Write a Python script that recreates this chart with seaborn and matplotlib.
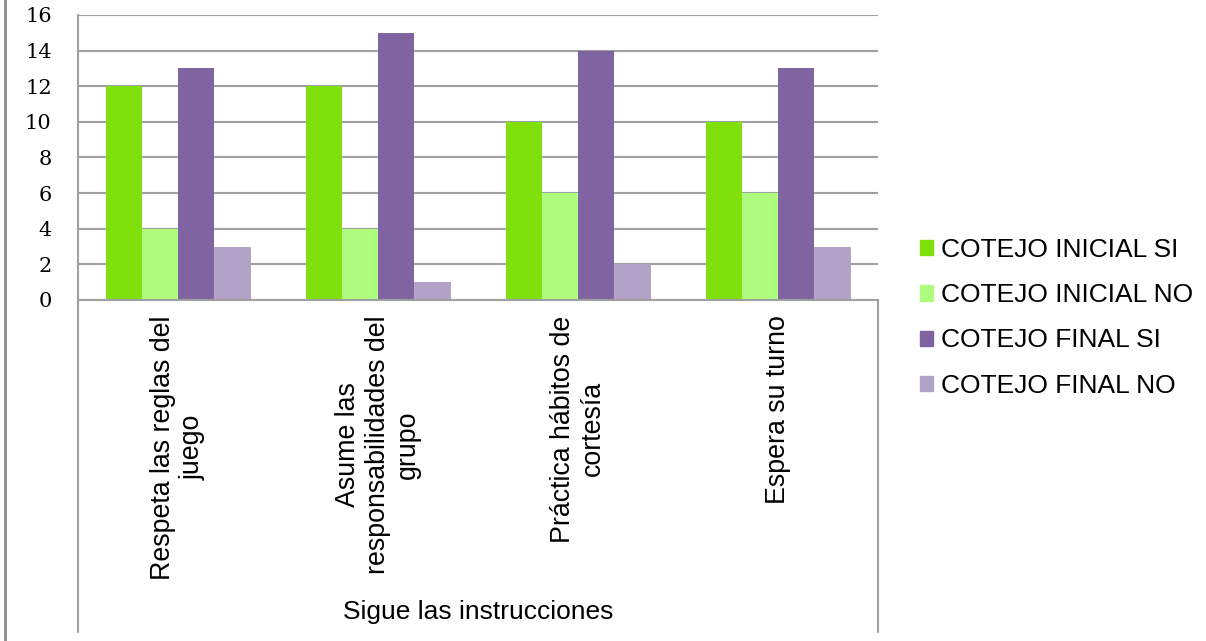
import matplotlib
matplotlib.use("Agg")
import matplotlib.pyplot as plt
from matplotlib.lines import Line2D
import pandas as pd
import seaborn as sns

# ---------------------------------------------------------------
# data
# ---------------------------------------------------------------
categorias = [
    "Respeta las reglas del\njuego",
    "Asume las\nresponsabilidades del\ngrupo",
    "Práctica hábitos de\ncortesía",
    "Espera su turno",
]
series = ["COTEJO INICIAL SI", "COTEJO INICIAL NO", "COTEJO FINAL SI", "COTEJO FINAL NO"]
inicial_si = [12, 12, 10, 10]
inicial_no = [4, 4, 6, 6]
final_si = [13, 15, 14, 13]
final_no = [3, 1, 2, 3]
colores = ["#7FE00C", "#AEFD7F", "#8064A2", "#B3A2C7"]
y_ticks = [0, 2, 4, 6, 8, 10, 12, 14, 16]

df = pd.DataFrame({
    "categoria": categorias * 4,
    "serie": [s for s in series for _ in categorias],
    "valor": inicial_si + inicial_no + final_si + final_no,
})

sns.set_style("white")
plt.rcParams["font.family"] = ["Liberation Sans", "DejaVu Sans"]
plt.rcParams["text.color"] = "black"
plt.rcParams["axes.labelcolor"] = "black"
plt.rcParams["xtick.color"] = "black"
plt.rcParams["ytick.color"] = "black"

fig = plt.figure(figsize=(12.06, 6.41), dpi=100)
ax = fig.add_axes([0.0647, 0.532, 0.6634, 0.4446])

sns.barplot(data=df, x="categoria", y="valor", hue="serie", order=categorias,
            hue_order=series, palette=colores, width=0.725, saturation=1,
            linewidth=0, errorbar=None, ax=ax)

grid_col = "#A0A0A0"
ax.set_ylim(0, 16)
ax.set_yticks(y_ticks)
ax.set_yticklabels([str(t) for t in y_ticks], family="DejaVu Serif", fontsize=15)
ax.yaxis.grid(True, color=grid_col, linewidth=1.5)
ax.set_axisbelow(True)
ax.tick_params(axis="y", length=0, pad=19, colors="black")
ax.tick_params(axis="x", length=0, pad=11, colors="black")
for lab in ax.get_xticklabels():
    lab.set_rotation(90)
    lab.set_ha("center")
    lab.set_va("top")
    lab.set_multialignment("center")
    lab.set_fontsize(19.3)
    lab.set_linespacing(1.2)

for side in ["top", "right"]:
    ax.spines[side].set_visible(False)
ax.spines["left"].set_color(grid_col)
ax.spines["left"].set_linewidth(1.5)
ax.spines["bottom"].set_color(grid_col)
ax.spines["bottom"].set_linewidth(1.5)

# category-area border lines below the axis
ext = 332 / 285
for xpos in (0, 1):
    ax.add_line(Line2D([xpos, xpos], [0, -ext], transform=ax.transAxes,
                       color=grid_col, linewidth=1.5, clip_on=False))

ax.set_xlabel("Sigue las instrucciones", fontsize=19, va="center", color="black")
ax.xaxis.set_label_coords(0.5, -(612 - 300) / 285)
ax.set_ylabel("")

ax.get_legend().remove()
handles = [plt.Rectangle((0, 0), 1, 1, color=c) for c in colores]
fig.legend(handles, series, loc="center left", bbox_to_anchor=(0.763, 0.504),
           frameon=False, fontsize=19, handlelength=0.5, handleheight=0.5,
           handletextpad=0.3, labelspacing=0.8, borderpad=0, borderaxespad=0)

# left frame edge
fig.add_artist(Line2D([0.0045, 0.0045], [0, 1], transform=fig.transFigure,
                      color="#8C8C8C", linewidth=2))

fig.savefig("out.png", dpi=100)
